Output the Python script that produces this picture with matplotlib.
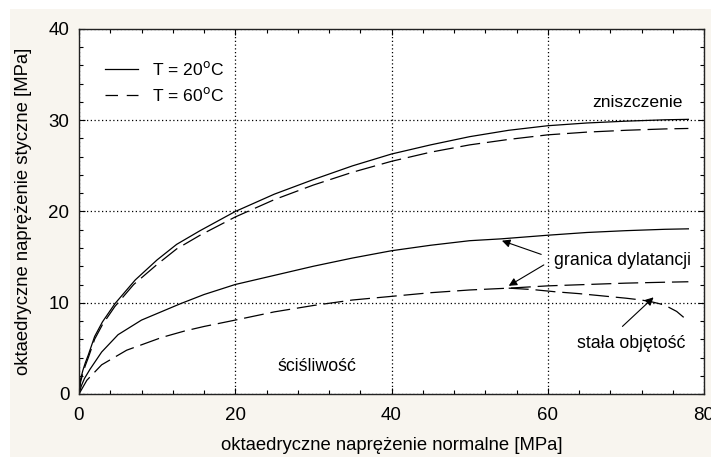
import numpy as np
import matplotlib.pyplot as plt
from matplotlib.patches import Rectangle

plt.rcParams['font.family'] = ['Liberation Sans', 'DejaVu Sans']

# curves (x: normal stress, y: shear stress, MPa)
fail20_x = [0, 0.2, 0.5, 0.8, 1.2, 2, 3, 4.6, 7.2, 10, 12.5, 15.5, 20, 25, 30, 35, 40, 45, 50, 55, 60, 65, 70, 75, 78]
fail20_y = [0, 1.6, 2.6, 3.4, 4.3, 6.3, 7.9, 9.9, 12.5, 14.7, 16.4, 17.9, 20.0, 21.9, 23.5, 25.0, 26.3, 27.3, 28.2, 28.9, 29.4, 29.7, 29.9, 30.05, 30.1]

fail60_x = [0, 0.2, 0.5, 0.8, 1.2, 2, 3, 4.6, 7, 10, 12.5, 15.5, 20, 25, 30, 35, 40, 45, 50, 55, 60, 65, 70, 75, 78]
fail60_y = [0, 1.3, 2.3, 3.1, 4.0, 6.0, 7.6, 9.6, 12.0, 14.2, 15.9, 17.4, 19.4, 21.3, 22.9, 24.3, 25.5, 26.5, 27.3, 27.9, 28.4, 28.7, 28.9, 29.05, 29.1]

dil20_x = [0, 0.3, 0.7, 1.4, 2.9, 5, 8, 13, 16, 20, 25, 30, 35, 40, 45, 50, 54, 60, 65, 70, 75, 78]
dil20_y = [0, 0.9, 1.7, 2.7, 4.6, 6.5, 8.1, 9.9, 10.9, 12.0, 13.0, 14.0, 14.9, 15.7, 16.3, 16.8, 17.0, 17.4, 17.7, 17.9, 18.05, 18.1]

dil60_x = [0, 1, 2.9, 6.1, 10.6, 13.5, 16, 20, 25, 30, 35, 40, 45, 50, 55, 60, 65, 70, 75, 78]
dil60_y = [0, 1.5, 3.2, 4.8, 6.2, 6.9, 7.4, 8.1, 9.0, 9.7, 10.3, 10.7, 11.1, 11.4, 11.6, 11.85, 12.0, 12.15, 12.25, 12.3]

vol60_x = [55, 58, 61, 64, 67, 70, 72, 73.3, 74.5, 75.5, 76.5, 77.4]
vol60_y = [11.6, 11.45, 11.2, 11.0, 10.75, 10.5, 10.3, 10.1, 9.85, 9.5, 9.05, 8.4]

fig = plt.figure(figsize=(7.11, 4.57), dpi=100, facecolor='white')
fig.patches.append(Rectangle((10 / 711, 0), 1, 1 - 9 / 457, transform=fig.transFigure,
                             facecolor='#f8f5ef', edgecolor='none', zorder=-10))
ax = fig.add_axes([79 / 711, 63 / 457, 625 / 711, 365 / 457])
ax.set_facecolor('white')

dash = (16, 5.5)
ax.plot(fail20_x, fail20_y, color='black', lw=0.9)
ax.plot(fail60_x, fail60_y, color='black', lw=0.9, dashes=dash)
ax.plot(dil20_x, dil20_y, color='black', lw=0.9)
ax.plot(dil60_x, dil60_y, color='black', lw=0.9, dashes=dash)
ax.plot(vol60_x, vol60_y, color='black', lw=0.9, dashes=dash)

ax.set_xlim(0, 80)
ax.set_ylim(0, 40)
ax.set_xticks([0, 20, 40, 60, 80])
ax.set_yticks([0, 10, 20, 30, 40])
ax.set_xticks(np.arange(0, 81, 4), minor=True)
ax.set_yticks(np.arange(0, 41, 2), minor=True)
ax.tick_params(which='both', direction='in', top=True, right=True, labelsize=13.5)
ax.tick_params(axis='x', pad=9)
ax.tick_params(axis='y', pad=7)
ax.tick_params(which='major', length=4, width=0.8)
ax.tick_params(which='minor', length=3, width=0.8)
ax.grid(True, which='major', color='black', linestyle=(0, (1, 2)), linewidth=0.9)
for s in ax.spines.values():
    s.set_linewidth(1.0)
    s.set_color('#222222')

ax.set_xlabel('oktaedryczne naprężenie normalne [MPa]', fontsize=13.3, labelpad=10)
ax.set_ylabel('oktaedryczne naprężenie styczne [MPa]', fontsize=13.3, labelpad=12)

# legend drawn by hand like the original
ax.plot([3.3, 7.5], [35.6, 35.6], color='black', lw=0.9)
ax.plot([3.3, 7.5], [32.8, 32.8], color='black', lw=0.9, dashes=(10, 7))
ax.text(9.3, 35.6, r'T = 20$^{\mathrm{o}}$C', fontsize=12.6, va='center')
ax.text(9.3, 32.8, r'T = 60$^{\mathrm{o}}$C', fontsize=12.6, va='center')

ax.text(77.3, 31.1, 'zniszczenie', fontsize=12.6, ha='right', va='bottom')
ax.text(25.4, 2.1, 'ściśliwość', fontsize=12.8, ha='left', va='bottom')

ax.text(60.8, 14.6, 'granica dylatancji', fontsize=12.8, ha='left', va='center')
arr = dict(arrowstyle='-|>', color='black', lw=0.8, mutation_scale=12)
ax.annotate('', xy=(53.8, 16.9), xytext=(59.5, 15.2), arrowprops=arr)
ax.annotate('', xy=(54.7, 11.7), xytext=(59.8, 14.3), arrowprops=arr)

ax.text(63.7, 5.5, 'stała objętość', fontsize=12.8, ha='left', va='center')
ax.annotate('', xy=(73.8, 10.8), xytext=(69.3, 7.2), arrowprops=arr)

fig.savefig('out.png', dpi=100, facecolor=fig.get_facecolor())
